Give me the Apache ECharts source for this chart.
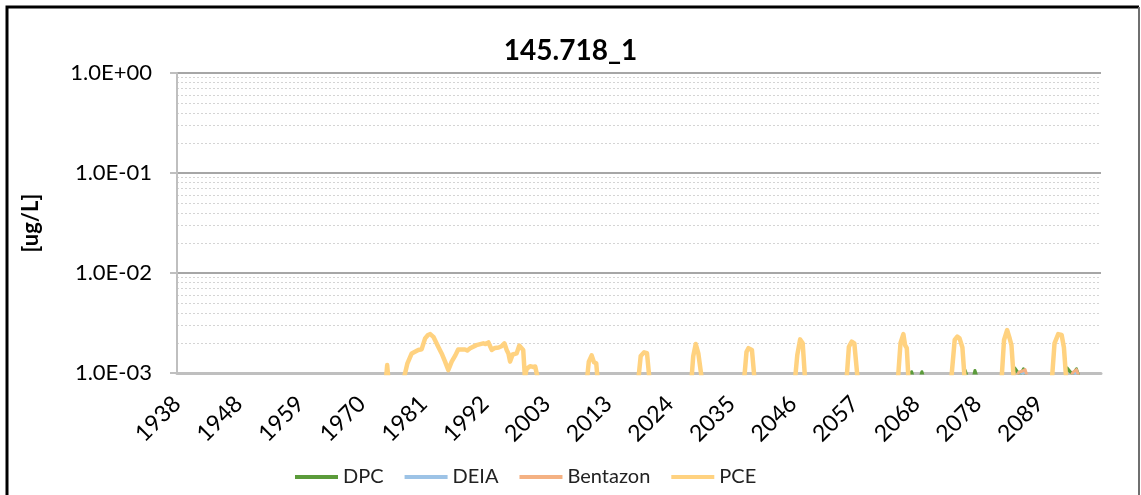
<!DOCTYPE html>
<html>
<head>
<meta charset="utf-8">
<script src="https://cdn.jsdelivr.net/npm/echarts@6/dist/echarts.min.js"></script>
<style>
  html, body { margin: 0; padding: 0; background: #fff; }
  #chart { width: 1141px; height: 495px; }
</style>
</head>
<body>
<div id="chart"></div>
<script>
// x axis: decimal years, labels every X_STEP years starting at X_START
const X_START = 1938;
const X_STEP = 10.8;
const xTickLabels = ['1938', '1948', '1959', '1970', '1981', '1992', '2003', '2013',
  '2024', '2035', '2046', '2057', '2068', '2078', '2089'];
const yTickLabels = ['1.0E-03', '1.0E-02', '1.0E-01', '1.0E+00'];
const yMinorValues = [
  0.002, 0.003, 0.004, 0.005, 0.006, 0.007, 0.008, 0.009,
  0.02, 0.03, 0.04, 0.05, 0.06, 0.07, 0.08, 0.09,
  0.2, 0.3, 0.4, 0.5, 0.6, 0.7, 0.8, 0.9
];

// [year, ug/L] (values under 1.0E-03 fall below the axis)
const dpc = [
  [2066.5, 0.0009], [2066.8, 0.00103], [2067.1, 0.0009],
  [2068.3, 0.0009], [2068.6, 0.00103], [2068.9, 0.0009],
  [2075.9, 0.0009], [2076.2, 0.00106], [2076.6, 0.0009],
  [2077.6, 0.0009], [2077.9, 0.00106], [2078.3, 0.0009],
  [2084.6, 0.0009], [2084.9, 0.00112], [2085.4, 0.00102], [2085.8, 0.00095], [2086.4, 0.0011], [2086.9, 0.0009],
  [2093.8, 0.0009], [2094.1, 0.00112], [2094.6, 0.00103], [2095.1, 0.00098], [2095.7, 0.0011], [2096.2, 0.0009]
];
const deia = [
  [2085.5, 0.0009], [2086.6, 0.00104], [2087.0, 0.0009],
  [2094.9, 0.0009], [2095.6, 0.00104], [2096.1, 0.0009]
];
const bentazon = [
  [2085.2, 0.0009], [2085.6, 0.00102], [2086.1, 0.00104], [2086.7, 0.00108], [2087.1, 0.0009],
  [2094.6, 0.0009], [2095.1, 0.00102], [2095.7, 0.00108], [2096.2, 0.0009]
];
const pce = [
  [1974.3, 0.0005], [1974.85, 0.0012], [1975.4, 0.0005],
  [1977.6, 0.0008], [1978.4, 0.00125], [1979.15, 0.00157], [1980.3, 0.0017], [1980.9, 0.00173],
  [1981.5, 0.00222], [1982.0, 0.0024], [1982.4, 0.00245], [1982.95, 0.0023], [1983.8, 0.00183],
  [1984.4, 0.00157], [1985.0, 0.0013], [1985.56, 0.00107], [1986.16, 0.0013], [1986.8, 0.0015],
  [1987.3, 0.00172], [1988.5, 0.00172], [1988.9, 0.00168], [1989.4, 0.00177], [1990.5, 0.0019],
  [1991.7, 0.00198], [1992.1, 0.00195], [1992.6, 0.00202], [1992.9, 0.00195], [1993.2, 0.0017],
  [1993.75, 0.00178], [1994.4, 0.0018], [1994.9, 0.00185], [1995.4, 0.00198], [1995.8, 0.0017],
  [1996.1, 0.00157], [1996.4, 0.0013], [1996.85, 0.00153], [1997.55, 0.00157], [1998.0, 0.00188],
  [1998.7, 0.0017], [1999.0, 0.0009], [1999.3, 0.0011], [1999.9, 0.00117], [2000.4, 0.00115],
  [2000.8, 0.00116], [2001.64, 0.0007],
  [2009.6, 0.0006], [2010.2, 0.0013], [2010.7, 0.0015], [2011.1, 0.00128], [2011.5, 0.00125], [2012.0, 0.0006],
  [2018.6, 0.0006], [2019.3, 0.00148], [2019.9, 0.00161], [2020.4, 0.00158], [2021.1, 0.0006],
  [2028.0, 0.0006], [2028.5, 0.00146], [2028.95, 0.00195], [2029.4, 0.00157], [2029.7, 0.0015], [2030.4, 0.0006],
  [2037.2, 0.0006], [2037.85, 0.00163], [2038.2, 0.00177], [2038.8, 0.0017], [2039.5, 0.0006],
  [2046.1, 0.0006], [2046.75, 0.00151], [2047.25, 0.00217], [2047.7, 0.00198], [2048.3, 0.0006],
  [2055.2, 0.0006], [2055.8, 0.00183], [2056.3, 0.00206], [2056.75, 0.00198], [2057.6, 0.0006],
  [2064.2, 0.0006], [2064.85, 0.002], [2065.35, 0.00245], [2065.65, 0.0019], [2065.95, 0.00177], [2066.4, 0.0006],
  [2073.5, 0.0006], [2074.35, 0.00214], [2074.8, 0.00231], [2075.2, 0.00222], [2075.7, 0.0018], [2076.3, 0.0006],
  [2082.4, 0.0006], [2083.0, 0.00214], [2083.55, 0.00269], [2084.0, 0.0022], [2084.3, 0.0019], [2084.9, 0.0006],
  [2091.2, 0.0006], [2091.85, 0.00198], [2092.5, 0.00245], [2093.1, 0.0024], [2093.5, 0.0018], [2094.1, 0.0006]
];

const FONT = 'Lato';
const xTickValues = xTickLabels.map((_, i) => X_START + i * X_STEP);

const chart = echarts.init(document.getElementById('chart'));

const lineSeries = (name, data, color, width) => ({
  name: name,
  type: 'line',
  data: data,
  showSymbol: false,
  symbol: 'none',
  clip: true,
  lineStyle: { color: color, width: width, join: 'round', cap: 'round' },
  itemStyle: { color: color },
  animation: false
});

chart.setOption({
  backgroundColor: '#fff',
  title: {
    text: '145.718_1',
    left: 'center',
    top: 32,
    textStyle: { fontFamily: FONT, fontSize: 28, fontWeight: 'bold', color: '#000' }
  },
  legend: {
    bottom: 3,
    left: 290,
    icon: 'rect',
    itemWidth: 43,
    itemHeight: 4,
    itemGap: 21,
    textStyle: { fontFamily: FONT, fontSize: 20, color: '#222' },
    data: ['DPC', 'DEIA', 'Bentazon', 'PCE']
  },
  grid: { left: 177, right: 40, top: 73, bottom: 122, containLabel: false, outerBoundsMode: 'none' },
  xAxis: {
    type: 'value',
    min: X_START,
    max: X_START + 15 * X_STEP,
    axisLine: { show: true, lineStyle: { color: '#bfbfbf', width: 3 } },
    axisTick: { show: false },
    splitLine: { show: false },
    axisLabel: {
      customValues: xTickValues,
      rotate: 45,
      margin: 27,
      fontFamily: FONT,
      fontSize: 23,
      color: '#000',
      formatter: v => {
        const i = Math.round((v - X_START) / X_STEP);
        return xTickLabels[i] || '';
      }
    }
  },
  yAxis: [
    {
      type: 'log',
      logBase: 10,
      min: 0.001,
      max: 1,
      name: '[ug/L]',
      nameLocation: 'middle',
      nameRotate: 90,
      nameGap: 135,
      nameTextStyle: { fontFamily: FONT, fontSize: 22, fontWeight: 'bold', color: '#000' },
      axisLine: { show: true, lineStyle: { color: '#bfbfbf', width: 2 } },
      axisTick: { show: true, length: 7, lineStyle: { color: '#bfbfbf', width: 2 } },
      splitLine: { show: true, lineStyle: { color: '#a6a6a6', width: 2 } },
      axisLabel: {
        margin: 25,
        fontFamily: FONT,
        fontSize: 22,
        color: '#000',
        formatter: v => yTickLabels[Math.round(Math.log10(v)) + 3] || ''
      }
    },
    {
      type: 'log',
      logBase: 10,
      min: 0.001,
      max: 1,
      position: 'left',
      axisLine: { show: false },
      axisLabel: { show: false },
      axisTick: { show: false, customValues: yMinorValues },
      splitLine: { show: true, lineStyle: { color: '#d4d4d4', width: 1, type: [2, 2] } },
      z: 0
    }
  ],
  series: [
    lineSeries('DPC', dpc, '#5b9b3a', 3),
    lineSeries('DEIA', deia, '#9dc3e6', 3),
    lineSeries('Bentazon', bentazon, '#f4b183', 3),
    lineSeries('PCE', pce, '#ffd280', 4.5)
  ],
  graphic: [
    { type: 'polyline', shape: { points: [[7, 520], [7, 7], [1139, 7]] },
      style: { stroke: '#000', lineWidth: 3, fill: null }, silent: true },
    { type: 'line', shape: { x1: 1139, y1: 7, x2: 1139, y2: 520 },
      style: { stroke: '#6f6f6f', lineWidth: 2 }, silent: true }
  ]
});
</script>
</body>
</html>
